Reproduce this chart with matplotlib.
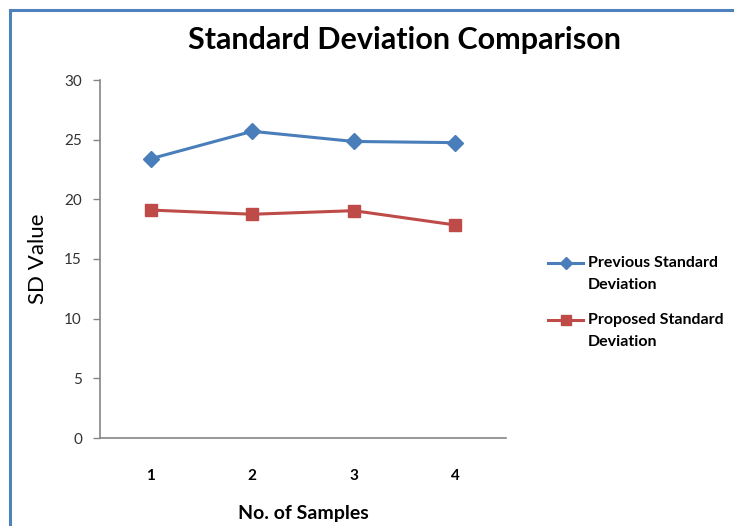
import numpy as np
from matplotlib import pyplot as plt
from matplotlib.lines import Line2D

plt.rcParams['font.family'] = ['Lato', 'DejaVu Sans']

samples = [1, 2, 3, 4]
previous_sd = [23.4, 25.7, 24.85, 24.75]
proposed_sd = [19.1, 18.75, 19.05, 17.85]
yticks = [0, 5, 10, 15, 20, 25, 30]
series_names = ['Previous Standard\nDeviation', 'Proposed Standard\nDeviation']

blue = '#4A7EBB'
red = '#BE4B48'

fig = plt.figure(figsize=(7.34, 5.26), dpi=100)
ax = fig.add_axes([100 / 734, 88 / 526, 406 / 734, 358 / 526])

colors = [blue, red]
markers = [('D', 6.5), ('s', 7.5)]
ax.plot(samples, previous_sd, lw=2.2, color=blue, marker='D', ms=8)
ax.plot(samples, proposed_sd, lw=2.2, color=red, marker='s', ms=9)

ax.set_xlim(0.5, 4.5)
ax.set_ylim(0, 30)
ax.set_xticks(samples)
ax.set_xticklabels([str(s) for s in samples], fontweight='bold', fontsize=11)
ax.set_yticks(yticks)
ax.set_yticklabels([str(t) for t in yticks], fontsize=11, color='#333333')
ax.tick_params(axis='x', length=0, pad=22)
ax.tick_params(axis='y', length=5, width=1, color='#868686', pad=8)

for side in ['top', 'right']:
    ax.spines[side].set_visible(False)
for side in ['left', 'bottom']:
    ax.spines[side].set_color('#868686')
    ax.spines[side].set_linewidth(1.2)

ax.set_xlabel('No. of Samples', fontsize=14, fontweight='bold', labelpad=16)
ax.set_ylabel('SD Value', fontsize=16, labelpad=12)

fig.text(405 / 734, 1 - 40 / 526, 'Standard Deviation Comparison',
         ha='center', va='center', fontsize=22, fontweight='bold')

# legend: handle lined up with the first text line, like a spreadsheet chart
for i, (name, c, (m, ms)) in enumerate(zip(series_names, colors, markers)):
    y = 1 - (263 + i * 57) / 526
    fig.add_artist(Line2D([548 / 734, 583 / 734], [y, y], lw=2.2, color=c,
                          transform=fig.transFigure))
    fig.add_artist(Line2D([565.5 / 734], [y], lw=0, color=c, marker=m, ms=ms,
                          transform=fig.transFigure))
    fig.text(588 / 734, y + 7 / 526, name, ha='left', va='top',
             fontsize=11.5, fontweight='bold', linespacing=1.75)

# chart frame edges
fig.add_artist(Line2D([10 / 734, 10 / 734], [0, 1 - 10 / 526],
                      color='#4F81BD', lw=2.2, transform=fig.transFigure))
fig.add_artist(Line2D([10 / 734, 1], [1 - 10 / 526, 1 - 10 / 526],
                      color='#4F81BD', lw=2.2, transform=fig.transFigure))

plt.savefig('out.png', dpi=100)
